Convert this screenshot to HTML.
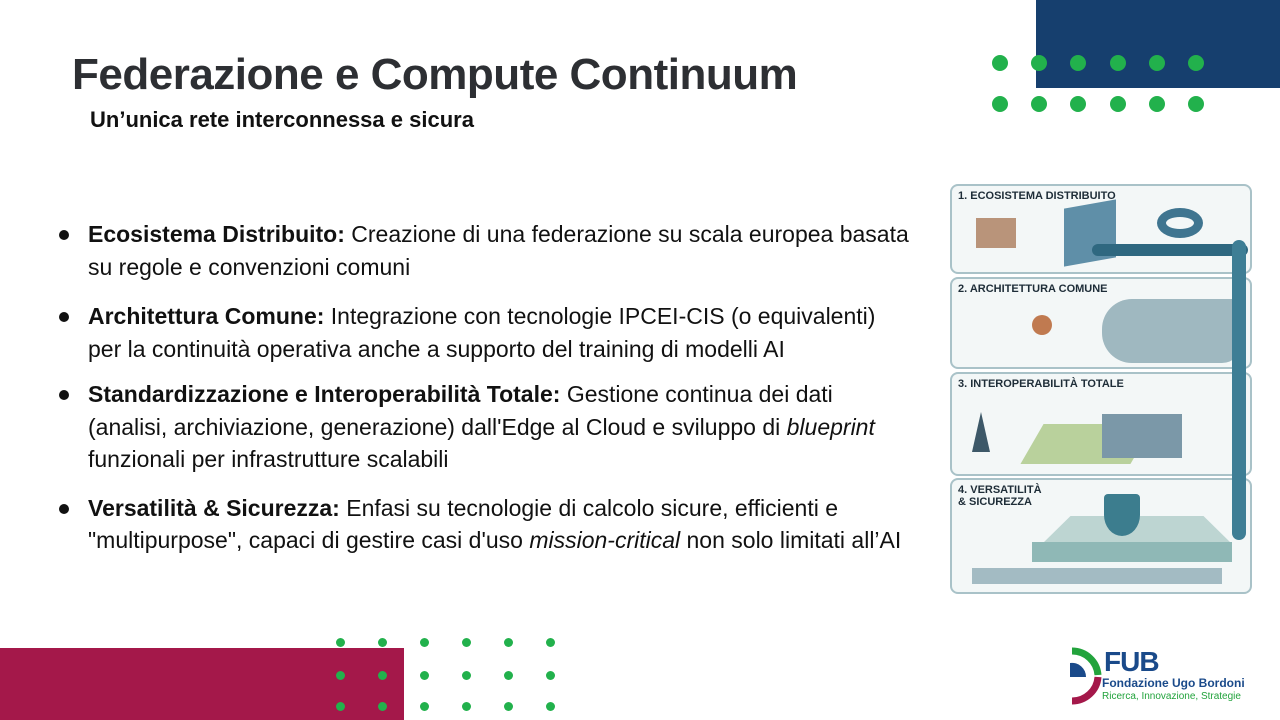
<!DOCTYPE html>
<html><head><meta charset="utf-8"><style>
body{margin:0;width:1280px;height:720px;position:relative;overflow:hidden;background:#fff;font-family:"Liberation Sans",sans-serif}
.a{position:absolute}
.dot{position:absolute;border-radius:50%;background:#22b14c}
h1{position:absolute;left:72px;top:50px;margin:0;font-size:44px;font-weight:bold;color:#2d2f33;letter-spacing:-0.5px}
.sub{left:90px;top:107px;font-size:22px;font-weight:bold;color:#111}
ul{position:absolute;left:56px;top:218px;margin:0;padding:0;list-style:none;width:900px}
li{position:relative;padding-left:32px;font-size:23px;line-height:32.5px;color:#111;white-space:nowrap}
li:before{content:"";position:absolute;left:3px;top:12px;width:10px;height:10px;border-radius:50%;background:#111}
.p{position:absolute;left:950px;width:298px;border:2px solid #a9c2c8;border-radius:8px;background:#f3f7f7}
.pt{position:absolute;left:6px;top:4px;font-size:11px;font-weight:bold;color:#1e2d38}
</style></head><body>
<div class="a" style="left:1036px;top:0;width:244px;height:88px;background:#163f6e"></div>
<div class="a" style="left:0;top:648px;width:404px;height:72px;background:#a4184a"></div>
<h1>Federazione e Compute Continuum</h1>
<div class="a sub">Un’unica rete interconnessa e sicura</div>
<ul>
<li style="margin-bottom:17px"><b>Ecosistema Distribuito:</b> Creazione di una federazione su scala europea basata<br>su regole e convenzioni comuni</li>
<li style="margin-bottom:13px"><b>Architettura Comune:</b> Integrazione con tecnologie IPCEI-CIS (o equivalenti)<br>per la continuità operativa anche a supporto del training di modelli AI</li>
<li style="margin-bottom:16px"><b>Standardizzazione e Interoperabilità Totale:</b> Gestione continua dei dati<br>(analisi, archiviazione, generazione) dall'Edge al Cloud e sviluppo di <i>blueprint</i><br>funzionali per infrastrutture scalabili</li>
<li><b>Versatilità &amp; Sicurezza:</b> Enfasi su tecnologie di calcolo sicure, efficienti e<br>"multipurpose", capaci di gestire casi d'uso <i>mission-critical</i> non solo limitati all’AI</li>
</ul>
<div class="p" style="top:184px;height:86px"><div class="pt">1. ECOSISTEMA DISTRIBUITO</div>
<div class="a" style="left:112px;top:18px;width:52px;height:58px;background:#5f8fa8;transform:skewY(-10deg)"></div>
<div class="a" style="left:205px;top:22px;width:46px;height:30px;border-radius:50%;border:9px solid #3f7590;box-sizing:border-box"></div>
<div class="a" style="left:140px;top:58px;width:156px;height:12px;background:#2f6880;border-radius:6px"></div>
<div class="a" style="left:24px;top:32px;width:40px;height:30px;background:#a06a45;opacity:.7"></div></div>
<div class="p" style="top:277px;height:88px"><div class="pt">2. ARCHITETTURA COMUNE</div>
<div class="a" style="left:150px;top:20px;width:140px;height:64px;background:#9fb8c0;border-radius:30px 10px 20px 30px"></div>
<div class="a" style="left:80px;top:36px;width:20px;height:20px;background:#c07a50;border-radius:50%"></div></div>
<div class="p" style="top:372px;height:100px"><div class="pt">3. INTEROPERABILITÀ TOTALE</div>
<div class="a" style="left:80px;top:50px;width:110px;height:40px;background:#b9d19c;transform:skewX(-30deg)"></div>
<div class="a" style="left:150px;top:40px;width:80px;height:44px;background:#7b98a8"></div>
<div class="a" style="left:20px;top:38px;width:18px;height:40px;background:#3d5868;clip-path:polygon(50% 0,100% 100%,0 100%)"></div></div>
<div class="p" style="top:478px;height:112px"><div class="pt">4. VERSATILITÀ<br>&amp; SICUREZZA</div>
<div class="a" style="left:90px;top:36px;width:190px;height:28px;background:#bdd5d2;clip-path:polygon(15% 0,85% 0,100% 100%,0 100%)"></div>
<div class="a" style="left:152px;top:14px;width:36px;height:42px;background:#3c7d8e;border-radius:4px 4px 50% 50%"></div>
<div class="a" style="left:80px;top:62px;width:200px;height:20px;background:#8fb8b6"></div>
<div class="a" style="left:20px;top:88px;width:250px;height:16px;background:#6e93a0;opacity:.6"></div></div>
<div class="a" style="left:1232px;top:240px;width:14px;height:300px;background:#3e7e95;border-radius:7px"></div>
<svg class="a" style="left:1068px;top:645px" width="34" height="62"><path d="M4 6 A26 26 0 0 1 30 30" stroke="#22a33c" stroke-width="7" fill="none"/><path d="M2 18 A14 14 0 0 1 18 32 L2 32Z" fill="#1a4a8a"/><path d="M4 56 A26 26 0 0 0 30 32" stroke="#a4184a" stroke-width="7" fill="none"/></svg>
<div class="a" style="left:1104px;top:646px;font-size:28px;font-weight:bold;color:#1a4a8a;letter-spacing:-1px">FUB</div>
<div class="a" style="left:1102px;top:676px;font-size:12px;font-weight:bold;color:#1a4a8a">Fondazione Ugo Bordoni</div>
<div class="a" style="left:1102px;top:691px;font-size:10px;color:#22a33c">Ricerca, Innovazione, Strategie</div>
<div id="d"></div>
<script>
var h='';[1000,1039,1078,1118,1157,1196].forEach(function(x){[63,104].forEach(function(y){h+='<div class="dot" style="left:'+(x-8)+'px;top:'+(y-8)+'px;width:16px;height:16px"></div>'})});
[340,382,424,466,508,550].forEach(function(x){[642,675,706].forEach(function(y){h+='<div class="dot" style="left:'+(x-4.5)+'px;top:'+(y-4.5)+'px;width:9px;height:9px"></div>'})});
document.getElementById('d').innerHTML=h;
</script>
</body></html>
